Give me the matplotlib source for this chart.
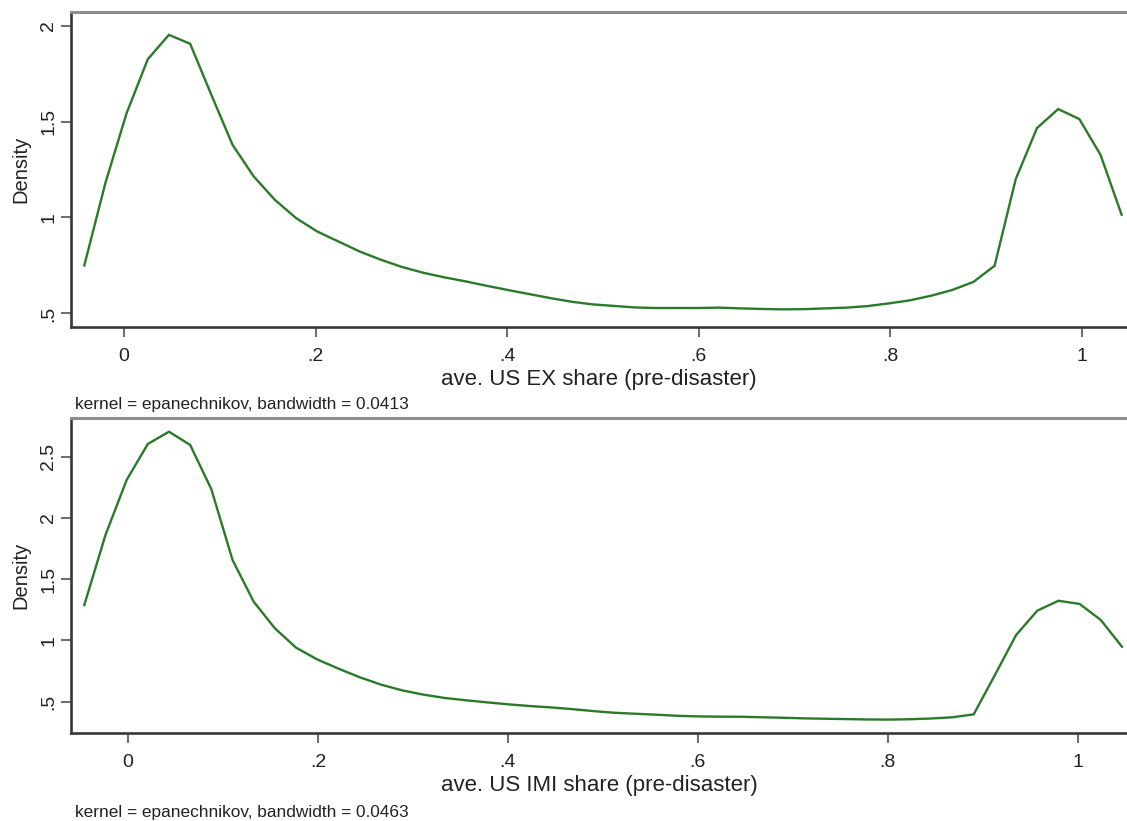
import matplotlib
matplotlib.use("Agg")
import matplotlib.pyplot as plt

plt.rcParams['font.family'] = ['Liberation Sans', 'DejaVu Sans']

# Kernel density estimates evaluated on a 50-point grid
ex_grid = [-0.0415, -0.0194, 0.0027, 0.0248, 0.0469, 0.0691, 0.0912, 0.1133, 0.1354, 0.1575,
           0.1796, 0.2017, 0.2238, 0.2459, 0.2680, 0.2902, 0.3123, 0.3344, 0.3565, 0.3786,
           0.4007, 0.4228, 0.4449, 0.4670, 0.4891, 0.5113, 0.5334, 0.5555, 0.5776, 0.5997,
           0.6218, 0.6439, 0.6660, 0.6881, 0.7102, 0.7324, 0.7545, 0.7766, 0.7987, 0.8208,
           0.8429, 0.8650, 0.8871, 0.9092, 0.9313, 0.9535, 0.9756, 0.9977, 1.0198, 1.0419]
ex_density = [0.750, 1.181, 1.544, 1.825, 1.952, 1.905, 1.639, 1.379, 1.214, 1.092,
              0.997, 0.927, 0.875, 0.823, 0.780, 0.742, 0.712, 0.688, 0.667, 0.644,
              0.622, 0.601, 0.580, 0.561, 0.547, 0.539, 0.531, 0.528, 0.528, 0.528,
              0.530, 0.526, 0.523, 0.521, 0.522, 0.526, 0.530, 0.538, 0.552, 0.568,
              0.592, 0.622, 0.664, 0.748, 1.200, 1.466, 1.565, 1.513, 1.327, 1.014]

imi_grid = [-0.0460, -0.0237, -0.0014, 0.0209, 0.0432, 0.0655, 0.0878, 0.1101, 0.1324, 0.1547,
            0.1770, 0.1993, 0.2216, 0.2439, 0.2662, 0.2885, 0.3108, 0.3331, 0.3554, 0.3777,
            0.4000, 0.4223, 0.4446, 0.4669, 0.4892, 0.5115, 0.5338, 0.5561, 0.5784, 0.6007,
            0.6230, 0.6453, 0.6676, 0.6899, 0.7122, 0.7345, 0.7568, 0.7791, 0.8014, 0.8237,
            0.8460, 0.8683, 0.8906, 0.9129, 0.9352, 0.9575, 0.9798, 1.0021, 1.0244, 1.0467]
imi_density = [1.289, 1.861, 2.310, 2.604, 2.704, 2.596, 2.234, 1.657, 1.316, 1.099,
               0.941, 0.845, 0.770, 0.700, 0.640, 0.593, 0.558, 0.531, 0.512, 0.495,
               0.479, 0.465, 0.454, 0.440, 0.424, 0.410, 0.402, 0.394, 0.385, 0.380,
               0.378, 0.377, 0.373, 0.369, 0.364, 0.361, 0.358, 0.355, 0.354, 0.357,
               0.363, 0.373, 0.397, 0.718, 1.044, 1.243, 1.324, 1.298, 1.167, 0.949]

x_ticks = [0, 0.2, 0.4, 0.6, 0.8, 1.0]
x_ticklabels = ['0', '.2', '.4', '.6', '.8', '1']
ex_yticks = [0.5, 1.0, 1.5, 2.0]
ex_yticklabels = ['.5', '1', '1.5', '2']
imi_yticks = [0.5, 1.0, 1.5, 2.0, 2.5]
imi_yticklabels = ['.5', '1', '1.5', '2', '2.5']

ex_xlabel = 'ave. US EX share (pre-disaster)'
imi_xlabel = 'ave. US IMI share (pre-disaster)'
ex_note = 'kernel = epanechnikov, bandwidth = 0.0413'
imi_note = 'kernel = epanechnikov, bandwidth = 0.0463'

W, H = 1127, 821
fig = plt.figure(figsize=(W / 100, H / 100), dpi=100)
fig.patch.set_facecolor('white')

line_color = '#2a7a2a'
text_color = '#222222'


def panel(rect, grid, dens, xlim, ylim, yticks, yticklabels, xlabel):
    ax = fig.add_axes(rect)
    ax.plot(grid, dens, color=line_color, lw=1.7, solid_joinstyle='miter')
    ax.set_xlim(*xlim)
    ax.set_ylim(*ylim)
    ax.set_xticks(x_ticks)
    ax.set_xticklabels(x_ticklabels)
    ax.set_yticks(yticks)
    ax.set_yticklabels(yticklabels, rotation=90, va='center')
    ax.tick_params(axis='both', direction='out', length=7, width=1.5,
                   color='#707070', labelsize=14, labelcolor=text_color)
    ax.tick_params(axis='x', pad=8)
    ax.tick_params(axis='y', pad=3)
    for side in ('left', 'bottom'):
        ax.spines[side].set_color('#383838')
        ax.spines[side].set_linewidth(1.9)
    ax.spines['top'].set_color('#8c8c8c')
    ax.spines['top'].set_linewidth(2.2)
    ax.spines['right'].set_visible(False)
    ax.set_xlabel(xlabel, fontsize=16, color=text_color, labelpad=3)
    ax.set_ylabel('Density', fontsize=14.5, color=text_color, labelpad=7)
    return ax


def frac_rect(left, top, right, bottom):
    return [left / W, 1 - bottom / H, (right - left) / W, (bottom - top) / H]


panel(frac_rect(71, 12, 1127, 327), ex_grid, ex_density,
      (-0.0554, 1.0475), (0.429, 2.071), ex_yticks, ex_yticklabels, ex_xlabel)
panel(frac_rect(71, 417.5, 1127, 732.7), imi_grid, imi_density,
      (-0.060, 1.052), (0.247, 2.82), imi_yticks, imi_yticklabels, imi_xlabel)

fig.text(75 / W, 1 - 404 / H, ex_note, fontsize=12.4, color=text_color,
         ha='left', va='center')
fig.text(75 / W, 1 - 812 / H, imi_note, fontsize=12.4, color=text_color,
         ha='left', va='center')

fig.savefig('out.png', dpi=100, facecolor='white')
